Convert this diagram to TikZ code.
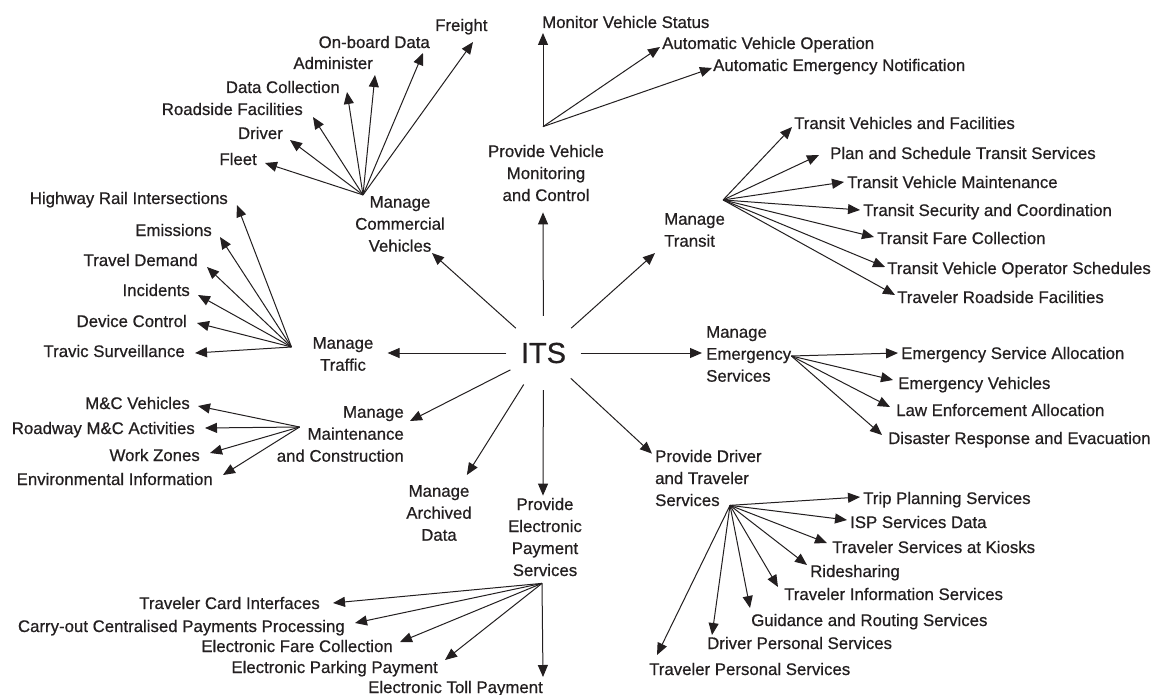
\documentclass[tikz,border=0pt]{standalone}
\usepackage{fontspec}
\setmainfont[FakeBold=0.6]{Liberation Sans}
\usetikzlibrary{arrows.meta}
\definecolor{ink}{HTML}{231F20}
\begin{document}
\begin{tikzpicture}[x=1pt,y=-1pt,
  lbl/.style={inner sep=0pt, text height=12pt, text depth=0pt, font=\fontsize{16.8}{22}\selectfont, text=ink},
  blk/.style={inner sep=0pt, font=\fontsize{16.8}{22}\selectfont, text=ink},
  itsnode/.style={circle, minimum size=74pt, inner sep=0pt, font=\fontsize{29}{30}\selectfont, text=ink},
  arr/.style={draw=ink, line width=1pt, -{Triangle[length=12pt,width=10pt]}}
]
\fill[white] (0,0) rectangle (1155,695);
\useasboundingbox (0,0) rectangle (1155,695);

% centre
\node[itsnode] (its) at (543.5,353) {ITS};

% first level
\node[blk, align=center] (mcv) at (400,224) {Manage\\Commercial\\Vehicles};
\node[blk, align=center] (pvmc) at (546,173) {Provide Vehicle\\Monitoring\\and Control};
\node[blk, align=left, anchor=west] (mt) at (664,230) {Manage\\Transit};
\node[blk, align=center] (mtr) at (343,354) {Manage\\Traffic};
\node[blk, align=left, anchor=west] (mes) at (706,354) {Manage\\Emergency\\Services};
\node[blk, align=right, anchor=east] (mmc) at (404,434) {Manage\\Maintenance\\and Construction};
\node[blk, align=center] (mad) at (439,513) {Manage\\Archived\\Data};
\node[blk, align=center] (pep) at (545,537) {Provide\\Electronic\\Payment\\Services};
\node[blk, align=left, anchor=west] (pdt) at (655,478) {Provide Driver\\and Traveler\\Services};

% spokes from ITS
\draw[arr] (its) -- ([xshift=-13pt,yshift=-1pt]mcv.south east);
\draw[arr] (its) -- ([xshift=-3pt,yshift=-11pt]pvmc.south);
\draw[arr] (its) -- ([xshift=-9pt,yshift=-6pt]mt.south west);
\draw[arr] (its) -- ([xshift=14pt,yshift=1pt]mtr.east);
\draw[arr] (its) -- ([xshift=-4pt,yshift=1pt]mes.west);
\draw[arr] (its) -- ([xshift=6pt,yshift=13pt]mmc.east);
\draw[arr] (its) -- ([xshift=-5pt,yshift=10pt]mad.north east);
\draw[arr] (its) -- ([xshift=-2pt,yshift=2pt]pep.north);
\draw[arr] (its) -- ([xshift=-3pt,yshift=-4pt]pdt.north west);

% hubs
\coordinate (hC) at ([xshift=8pt,yshift=1pt]mcv.north west);
\coordinate (hP) at ([xshift=-3pt,yshift=18pt]pvmc.north);
\coordinate (hT) at ([xshift=-2pt,yshift=13pt]mt.north east);
\coordinate (hR) at ([xshift=-21pt,yshift=7pt]mtr.west);
\coordinate (hE) at ([yshift=-2pt]mes.east);
\coordinate (hM) at ([xshift=23pt,yshift=7pt]mmc.west);
\coordinate (hY) at ([xshift=-3pt,yshift=-7pt]pep.south);
\coordinate (hD) at ([xshift=75pt,yshift=1pt]pdt.south west);

% Manage Commercial Vehicles
\node[lbl, anchor=west] (fr) at (435,25) {Freight};
\node[lbl, anchor=east] (ob) at (430,42) {On-board Data};
\node[lbl, anchor=east] (adm) at (373,63) {Administer};
\node[lbl, anchor=east] (dcol) at (340,87) {Data Collection};
\node[lbl, anchor=east] (rsf) at (303,109) {Roadside Facilities};
\node[lbl, anchor=east] (drv) at (283,133) {Driver};
\node[lbl, anchor=east] (flt) at (257,159) {Fleet};
\draw[arr] (hC) -- ([xshift=38pt,yshift=-17pt]fr.west);
\draw[arr] (hC) -- ([xshift=-7pt,yshift=-11pt]ob.east);
\draw[arr] (hC) -- ([xshift=2pt,yshift=-12pt]adm.east);
\draw[arr] (hC) -- ([xshift=7pt,yshift=-5pt]dcol.east);
\draw[arr] (hC) -- ([xshift=10pt,yshift=-8pt]rsf.east);
\draw[arr] (hC) -- ([xshift=7pt,yshift=-7pt]drv.east);
\draw[arr] (hC) -- ([xshift=8pt,yshift=-4pt]flt.east);

% Provide Vehicle Monitoring and Control
\node[lbl, anchor=west] (mvs) at (542,22) {Monitor Vehicle Status};
\node[lbl, anchor=west] (avo) at (662,43) {Automatic Vehicle Operation};
\node[lbl, anchor=west] (aen) at (713,65) {Automatic Emergency Notification};
\draw[arr] (hP) -- ([xshift=1pt,yshift=-11pt]mvs.west);
\draw[arr] (hP) -- ([xshift=-2pt,yshift=-4pt]avo.west);
\draw[arr] (hP) -- ([xshift=-1pt,yshift=-3pt]aen.west);

% Manage Transit
\node[lbl, anchor=west] (tvf) at (794,123) {Transit Vehicles and Facilities};
\node[lbl, anchor=west] (pst) at (830,153) {Plan and Schedule Transit Services};
\node[lbl, anchor=west] (tvm) at (847,182) {Transit Vehicle Maintenance};
\node[lbl, anchor=west] (tsc) at (863,210) {Transit Security and Coordination};
\node[lbl, anchor=west] (tfc) at (877,238) {Transit Fare Collection};
\node[lbl, anchor=west] (tvos) at (887,268) {Transit Vehicle Operator Schedules};
\node[lbl, anchor=west] (trf) at (897,297) {Traveler Roadside Facilities};
\draw[arr] (hT) -- ([xshift=-2pt,yshift=-4pt]tvf.west);
\draw[arr] (hT) -- ([xshift=-11pt,yshift=-2pt]pst.west);
\draw[arr] (hT) -- ([xshift=-3pt]tvm.west);
\draw[arr] (hT) -- ([xshift=-3pt]tsc.west);
\draw[arr] (hT) -- ([xshift=-3pt,yshift=1pt]tfc.west);
\draw[arr] (hT) -- ([xshift=-2pt,yshift=1pt]tvos.west);
\draw[arr] (hT) -- ([xshift=-2pt,yshift=2pt]trf.west);

% Manage Traffic
\node[lbl, anchor=east] (hri) at (228,198) {Highway Rail Intersections};
\node[lbl, anchor=east] (emi) at (212,230) {Emissions};
\node[lbl, anchor=east] (tdm) at (198,260) {Travel Demand};
\node[lbl, anchor=east] (inc) at (190,290) {Incidents};
\node[lbl, anchor=east] (dvc) at (187,321) {Device Control};
\node[lbl, anchor=east] (tsv) at (185,351) {Travic Surveillance};
\draw[arr] (hR) -- ([xshift=9pt,yshift=-7pt]hri.east);
\draw[arr] (hR) -- ([xshift=8pt,yshift=-7pt]emi.east);
\draw[arr] (hR) -- ([xshift=9pt,yshift=-7pt]tdm.east);
\draw[arr] (hR) -- ([xshift=8pt,yshift=-5pt]inc.east);
\draw[arr] (hR) -- ([xshift=10pt,yshift=-2pt]dvc.east);
\draw[arr] (hR) -- ([xshift=10pt,yshift=-2pt]tsv.east);

% Manage Maintenance and Construction
\node[lbl, anchor=east] (mcveh) at (190,403) {M\&C Vehicles};
\node[lbl, anchor=east] (rmc) at (195,428) {Roadway M\&C Activities};
\node[lbl, anchor=east] (wz) at (200,455) {Work Zones};
\node[lbl, anchor=east] (env) at (213,479) {Environmental Information};
\draw[arr] (hM) -- ([xshift=8pt,yshift=-3pt]mcveh.east);
\draw[arr] (hM) -- ([xshift=10pt]rmc.east);
\draw[arr] (hM) -- ([xshift=10pt,yshift=2pt]wz.east);
\draw[arr] (hM) -- ([xshift=10pt,yshift=4pt]env.east);

% Provide Electronic Payment Services
\node[lbl, anchor=east] (tci) at (320,603) {Traveler Card Interfaces};
\node[lbl, anchor=east] (cop) at (345,626) {Carry-out Centralised Payments Processing};
\node[lbl, anchor=east] (efc) at (393,646) {Electronic Fare Collection};
\node[lbl, anchor=east] (epp) at (438,667) {Electronic Parking Payment};
\node[lbl, anchor=east] (etp) at (543,687) {Electronic Toll Payment};
\draw[arr] (hY) -- ([xshift=13pt]tci.east);
\draw[arr] (hY) -- ([xshift=10pt,yshift=3pt]cop.east);
\draw[arr] (hY) -- ([xshift=7pt,yshift=4pt]efc.east);
\draw[arr] (hY) -- ([xshift=7pt,yshift=7pt]epp.east);
\draw[arr] (hY) -- ([yshift=10pt]etp.east);

% Manage Emergency Services
\node[lbl, anchor=west] (esa) at (901,353) {Emergency Service Allocation};
\node[lbl, anchor=west] (evh) at (898,383) {Emergency Vehicles};
\node[lbl, anchor=west] (lea) at (896,410) {Law Enforcement Allocation};
\node[lbl, anchor=west] (dre) at (888,438) {Disaster Response and Evacuation};
\draw[arr] (hE) -- ([xshift=-3pt]esa.west);
\draw[arr] (hE) -- ([xshift=-5pt,yshift=3pt]evh.west);
\draw[arr] (hE) -- ([xshift=-6pt,yshift=3pt]lea.west);
\draw[arr] (hE) -- ([xshift=-6pt,yshift=3pt]dre.west);

% Provide Driver and Traveler Services
\node[lbl, anchor=west] (tps) at (863,498) {Trip Planning Services};
\node[lbl, anchor=west] (isp) at (850,522) {ISP Services Data};
\node[lbl, anchor=west] (tsk) at (832,547) {Traveler Services at Kiosks};
\node[lbl, anchor=west] (rid) at (810,571) {Ridesharing};
\node[lbl, anchor=west] (tis) at (784,594) {Traveler Information Services};
\node[lbl, anchor=west] (grs) at (751,620) {Guidance and Routing Services};
\node[lbl, anchor=west] (dps) at (707,643) {Driver Personal Services};
\node[lbl, anchor=west] (tvp) at (649,669) {Traveler Personal Services};
\draw[arr] (hD) -- ([xshift=-3pt,yshift=1pt]tps.west);
\draw[arr] (hD) -- ([xshift=-3pt,yshift=2pt]isp.west);
\draw[arr] (hD) -- ([xshift=-5pt,yshift=4pt]tsk.west);
\draw[arr] (hD) -- ([xshift=-3pt,yshift=6pt]rid.west);
\draw[arr] (hD) -- ([xshift=-6pt,yshift=7pt]tis.west);
\draw[arr] (hD) -- ([xshift=-1pt,yshift=12pt]grs.west);
\draw[arr] (hD) -- ([xshift=5pt,yshift=8pt]dps.west);
\draw[arr] (hD) -- ([xshift=8pt,yshift=14pt]tvp.west);
\end{tikzpicture}
\end{document}
